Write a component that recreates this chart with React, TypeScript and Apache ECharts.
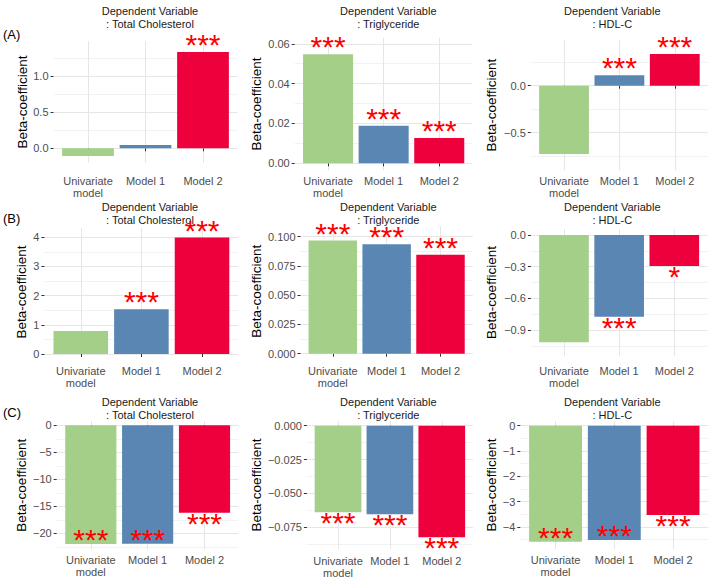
import React, { useEffect, useRef } from "react";
import * as echarts from "echarts";

// ---------- data ----------
const categories = ["Univariate\nmodel", "Model 1", "Model 2"];
const titleTC = "Dependent Variable\n: Total Cholesterol";
const titleTG = "Dependent Variable\n: Triglyceride";
const titleHDL = "Dependent Variable\n: HDL-C";
const rowLabels = ["(A)", "(B)", "(C)"];
const yTitle = "Beta-coefficient";

const valuesA_TC = [-0.107, 0.046, 1.333];
const valuesA_TG = [0.0547, 0.0189, 0.0127];
const valuesA_HDL = [-0.727, 0.11, 0.337];
const valuesB_TC = [0.79, 1.53, 3.99];
const valuesB_TG = [0.0966, 0.0935, 0.0844];
const valuesB_HDL = [-1.016, -0.774, -0.294];
const valuesC_TC = [-21.98, -21.95, -16.18];
const valuesC_TG = [-0.0639, -0.0653, -0.0823];
const valuesC_HDL = [-4.58, -4.51, -3.53];

const starsA_TC = ["", "", "***"];
const starsA_TG = ["***", "***", "***"];
const starsA_HDL = ["", "***", "***"];
const starsB_TC = ["", "***", "***"];
const starsB_TG = ["***", "***", "***"];
const starsB_HDL = ["", "***", "*"];
const starsC_TC = ["***", "***", "***"];
const starsC_TG = ["***", "***", "***"];
const starsC_HDL = ["***", "***", "***"];

const ticksA_TC = [0, 0.5, 1.0];
const ticksA_TG = [0, 0.02, 0.04, 0.06];
const ticksA_HDL = [-0.5, 0];
const ticksB_TC = [0, 1, 2, 3, 4];
const ticksB_TG = [0, 0.025, 0.05, 0.075, 0.1];
const ticksB_HDL = [-0.9, -0.6, -0.3, 0];
const ticksC_TC = [-20, -15, -10, -5, 0];
const ticksC_TG = [-0.075, -0.05, -0.025, 0];
const ticksC_HDL = [-4, -3, -2, -1, 0];

const minorA_TC = [0.25, 0.75, 1.25];
const minorA_TG = [0.01, 0.03, 0.05];
const minorA_HDL = [-0.75, -0.25, 0.25];
const minorB_TC = [0.5, 1.5, 2.5, 3.5];
const minorB_TG = [0.0125, 0.0375, 0.0625, 0.0875];
const minorB_HDL = [-1.05, -0.75, -0.45, -0.15];
const minorC_TC = [-22.5, -17.5, -12.5, -7.5, -2.5];
const minorC_TG = [-0.0875, -0.0625, -0.0375, -0.0125];
const minorC_HDL = [-4.5, -3.5, -2.5, -1.5, -0.5];

// ---------- layout / style ----------
const FONT = "Liberation Sans, Arial, sans-serif";
const barColors = ["#a3cf88", "#5a86b3", "#ee003d"];
const STAR_COLOR = "#ff0000";
const GRID_MAJOR = "#e6e6e6";
const GRID_MINOR = "#f2f2f2";

type Panel = {
  title: string;
  values: number[];
  stars: string[];
  inside: boolean[];
  ticks: number[];
  minor: number[];
  dec: number;
  left: number;
  width: number;
  top: number;
  height: number;
  min: number;
  max: number;
  nameGap: number;
  labelMargin: number;
};

const panels: Panel[] = [
  { title: titleTC, values: valuesA_TC, stars: starsA_TC, inside: [false, false, false], ticks: ticksA_TC, minor: minorA_TC, dec: 1,
    left: 53.5, width: 184, top: 41, height: 122, min: -0.203, max: 1.484, nameGap: 25, labelMargin: 11.5 },
  { title: titleTG, values: valuesA_TG, stars: starsA_TG, inside: [false, false, false], ticks: ticksA_TG, minor: minorA_TG, dec: 2,
    left: 294.7, width: 177.9, top: 38, height: 132, min: -0.00336, max: 0.0629, nameGap: 31.5, labelMargin: 4.5 },
  { title: titleHDL, values: valuesA_HDL, stars: starsA_HDL, inside: [false, false, false], ticks: ticksA_HDL, minor: minorA_HDL, dec: 1,
    left: 530.8, width: 177.2, top: 40, height: 130.3, min: -0.9, max: 0.486, nameGap: 32.6, labelMargin: 4.2 },
  { title: titleTC, values: valuesB_TC, stars: starsB_TC, inside: [false, false, false], ticks: ticksB_TC, minor: minorB_TC, dec: 0,
    left: 44.4, width: 194, top: 228, height: 128, min: -0.069, max: 4.32, nameGap: 16.2, labelMargin: 9 },
  { title: titleTG, values: valuesB_TG, stars: starsB_TG, inside: [false, false, false], ticks: ticksB_TG, minor: minorB_TG, dec: 3,
    left: 300.5, width: 172.3, top: 226, height: 130.5, min: -0.0024, max: 0.109, nameGap: 37.3, labelMargin: 8.5 },
  { title: titleHDL, values: valuesB_HDL, stars: starsB_HDL, inside: [false, false, false], ticks: ticksB_HDL, minor: minorB_HDL, dec: 1,
    left: 530.9, width: 176.5, top: 229, height: 127, min: -1.146, max: 0.057, nameGap: 32.7, labelMargin: 9 },
  { title: titleTC, values: valuesC_TC, stars: starsC_TC, inside: [true, true, false], ticks: ticksC_TC, minor: minorC_TC, dec: 0,
    left: 56.7, width: 181.9, top: 421, height: 128.5, min: -23.0, max: 0.8, nameGap: 28.5, labelMargin: 4.5 },
  { title: titleTG, values: valuesC_TG, stars: starsC_TG, inside: [false, false, false], ticks: ticksC_TG, minor: minorC_TG, dec: 3,
    left: 306.9, width: 166, top: 421, height: 128, min: -0.091, max: 0.00347, nameGap: 43.7, labelMargin: 6 },
  { title: titleHDL, values: valuesC_HDL, stars: starsC_HDL, inside: [true, true, false], ticks: ticksC_HDL, minor: minorC_HDL, dec: 0,
    left: 520.3, width: 188, top: 421, height: 128, min: -4.87, max: 0.186, nameGap: 22.1, labelMargin: 5 },
];

const titleCentersX = [150, 388.3, 612.3];
const rowTitleTop = [4.5, 200.8, 395.8];
const rowLabelCenterY = [34, 218.3, 412.5];

const fmt = (v: number, dec: number) => {
  const s = Math.abs(v).toFixed(dec);
  return (v < -1e-12 ? "\u2212" : "") + s;
};

function buildOption() {
  const grid: any[] = [];
  const xAxis: any[] = [];
  const yAxis: any[] = [];
  const series: any[] = [];
  const graphic: any[] = [];

  panels.forEach((p, i) => {
    grid.push({ left: p.left, top: p.top, width: p.width, height: p.height, containLabel: false, outerBoundsMode: "none" });
    xAxis.push({
      type: "value",
      gridIndex: i,
      min: 0.4,
      max: 3.6,
      axisLine: { show: false },
      axisTick: { show: true, customValues: [1, 2, 3], length: 3, lineStyle: { color: "#333333", width: 1 } },
      axisLabel: {
        customValues: [1, 2, 3],
        formatter: (v: number) => categories[Math.round(v) - 1],
        margin: p.labelMargin,
        color: "#4d4d4d",
        fontSize: 11,
        lineHeight: 12,
        fontFamily: FONT,
        verticalAlign: "top",
      },
      splitLine: { show: true, lineStyle: { color: GRID_MAJOR, width: 1 } },
    });
    yAxis.push({
      type: "value",
      gridIndex: i,
      min: p.min,
      max: p.max,
      position: "left",
      name: yTitle,
      nameLocation: "middle",
      nameGap: p.nameGap,
      nameTextStyle: { fontSize: 13.5, color: "#000000", fontFamily: FONT, lineHeight: 13 },
      axisLine: { show: false },
      axisTick: { show: true, customValues: p.ticks, length: 3, lineStyle: { color: "#333333", width: 1 } },
      axisLabel: {
        customValues: p.ticks,
        formatter: (v: number) => fmt(v, p.dec),
        margin: 5,
        color: "#4d4d4d",
        fontSize: 11,
        fontFamily: FONT,
      },
      splitLine: { show: true, lineStyle: { color: GRID_MAJOR, width: 1 } },
    });
    yAxis.push({
      type: "value",
      gridIndex: i,
      min: p.min,
      max: p.max,
      position: "left",
      axisLine: { show: false },
      axisTick: { show: false, customValues: p.minor },
      axisLabel: { show: false },
      splitLine: { show: true, lineStyle: { color: GRID_MINOR, width: 1 } },
    });

    const unit = p.width / 3.2;
    series.push({
      type: "bar",
      xAxisIndex: i,
      yAxisIndex: 2 * i,
      barWidth: unit * 0.9,
      data: p.values.map((v, k) => {
        const star = p.stars[k];
        let position = "top";
        let distance = 1.5;
        if (v < 0) {
          if (p.inside[k]) {
            position = "insideBottom";
            distance = -1.5;
          } else {
            position = "bottom";
            distance = 4.5;
          }
        }
        return {
          value: [k + 1, v],
          itemStyle: { color: barColors[k] },
          label: {
            show: star !== "",
            formatter: star,
            position,
            distance,
            color: STAR_COLOR,
            fontSize: 30,
            lineHeight: 12,
            fontFamily: FONT,
          },
        };
      }),
    });

    const col = i % 3;
    const row = Math.floor(i / 3);
    graphic.push({
      type: "text",
      x: titleCentersX[col],
      y: rowTitleTop[row],
      style: {
        text: p.title,
        align: "center",
        verticalAlign: "top",
        fontSize: 11,
        lineHeight: 13,
        fontFamily: FONT,
        fill: "#1a1a1a",
      },
    });
  });

  rowLabels.forEach((t, r) => {
    graphic.push({
      type: "text",
      x: 3,
      y: rowLabelCenterY[r],
      style: { text: t, align: "left", verticalAlign: "middle", fontSize: 13, fontFamily: FONT, fill: "#000000" },
    });
  });

  return {
    animation: false,
    backgroundColor: "#ffffff",
    grid,
    xAxis,
    yAxis,
    series,
    graphic,
  };
}

export default function App() {
  const ref = useRef<HTMLDivElement>(null);
  useEffect(() => {
    if (!ref.current) return;
    const chart = echarts.init(ref.current, undefined, { renderer: "svg" });
    chart.setOption(buildOption() as any);
    return () => chart.dispose();
  }, []);
  return (
    <div
      ref={ref}
      style={{ position: "fixed", left: 0, top: 0, width: 710, height: 580, background: "#ffffff" }}
    />
  );
}
